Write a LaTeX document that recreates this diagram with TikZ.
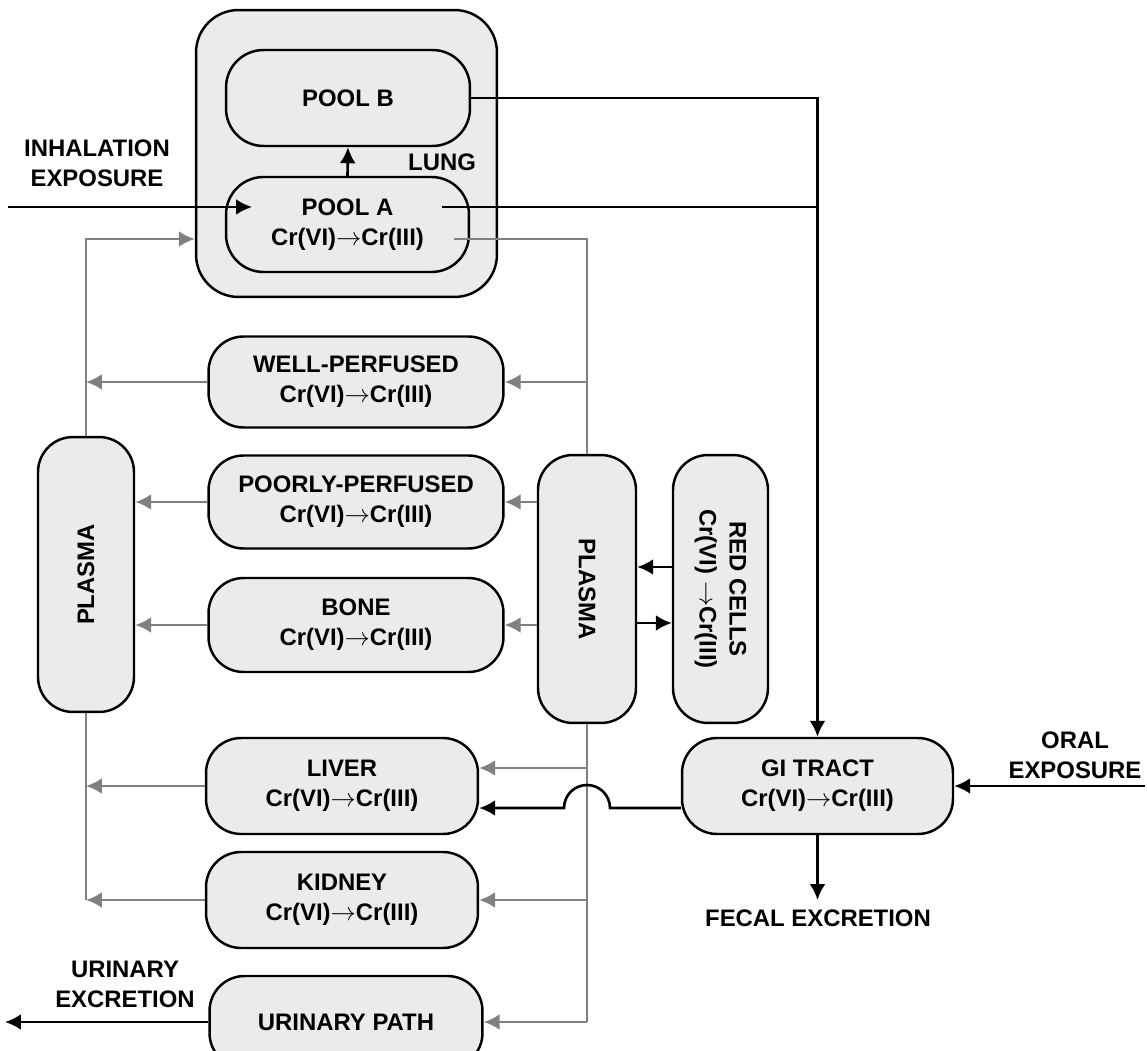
\documentclass[tikz,border=0pt]{standalone}
\usepackage{fontspec}
\setmainfont{Liberation Sans}
\usetikzlibrary{arrows.meta}
\newcommand{\crconv}{Cr(VI)$\rightarrow$Cr(III)}
\tikzset{
  comp/.style={draw,fill=black!8,line width=1.4pt,rounded corners=0.7cm,align=center,inner sep=0pt},
  lbl/.style={align=center,inner sep=1pt},
  blk/.style={draw,line width=1.5pt,>={Latex[length=0.32cm,width=0.32cm]}},
  gry/.style={draw,line width=1.5pt,black!50,>={Latex[length=0.32cm,width=0.32cm]}}
}
\begin{document}
\begin{tikzpicture}[x=0.02cm,y=-0.02cm,font=\fontsize{13.6}{17}\selectfont\bfseries]
\useasboundingbox (0,0) rectangle (1147,1051);
% lung
\node[comp,rounded corners=0.85cm,minimum width=6.02cm,minimum height=5.74cm] at (346.5,153.5)(lung){};
\node[comp,rounded corners=0.75cm,minimum width=4.88cm,minimum height=1.92cm] at (348,98)(poolB){POOL B};
\node[comp,rounded corners=0.75cm,minimum width=4.86cm,minimum height=1.9cm] at (347.5,224.5)(poolA){POOL A\\\crconv};
\node[lbl] at (442,162)(lunglbl){LUNG};
\node[lbl] at (97,163)(inhal){INHALATION\\EXPOSURE};
\coordinate (inh) at (8,207);
\coordinate (inhtip) at (252,207);
\coordinate (aout) at (442,207);
\coordinate (agray) at (454,239);
% tissues
\foreach \y/\h/\nm/\txt in {382/1.82/wp/WELL-PERFUSED, 502/1.86/pp/POORLY-PERFUSED, 625/1.88/bone/BONE}{
    \node[comp,minimum width=5.9cm,minimum height=\h cm] at (356,\y)(\nm){\txt\\\crconv};
}
\node[comp,minimum width=5.44cm,minimum height=1.92cm] at (342,786)(liver){LIVER\\\crconv};
\node[comp,minimum width=5.44cm,minimum height=1.92cm] at (342,900)(kidney){KIDNEY\\\crconv};
\node[comp,minimum width=5.46cm,minimum height=1.84cm] at (346,1022)(urin){URINARY PATH};
\node[comp,minimum width=1.92cm,minimum height=5.5cm] at (86,574.5)(lplasma){};
\node[rotate=90] at (lplasma){PLASMA};
\node[comp,minimum width=1.96cm,minimum height=5.36cm] at (587,589)(rplasma){};
\node[rotate=-90] at (rplasma){PLASMA};
\node[comp,minimum width=1.9cm,minimum height=5.36cm] at (720.5,589)(red){};
\node[rotate=-90,align=center] at (red){RED CELLS\\Cr(VI) $\rightarrow$Cr(III)};
\node[comp,minimum width=5.42cm,minimum height=1.92cm] at (817.5,786)(gi){GI TRACT\\\crconv};
\node[lbl] at (1075,755)(oral){ORAL\\EXPOSURE};
\node[lbl] at (818,918)(fecal){FECAL EXCRETION};
\node[lbl] at (125,984)(urinex){URINARY\\EXCRETION};
\coordinate (oralin) at (1145,786);
\coordinate (fectip) at (817.5,900);
\coordinate (uout) at (5,1022);
% lung connectors
\path[blk,->] (inh) -- (inhtip);
\path[blk,->] (poolA.north) -- (poolB.south);
\path[blk,->] (poolB.east) -- (poolB.east -| gi.north) -- (gi.north);
\path[blk] (aout) -- (aout -| gi.north);
\path[gry] (agray) -| (rplasma.north);
\path[gry,->] (lplasma.north) |- (lung.west |- agray);
% plasma to tissues
\path[gry,->] (rplasma.north |- wp.east) -- (wp.east);
\path[gry,->] (rplasma.west |- pp.east) -- (pp.east);
\path[gry,->] (rplasma.west |- bone.east) -- (bone.east);
\path[gry,->] (wp.west) -- (wp.west -| lplasma.north);
\path[gry,->] (pp.west) -- (pp.west -| lplasma.east);
\path[gry,->] (bone.west) -- (bone.west -| lplasma.east);
\path[gry] (rplasma.south) -- (rplasma.south |- urin.east);
\path[gry,->] (rplasma.south |- 0,768) -- (liver.east |- 0,768);
\path[gry,->] (rplasma.south |- kidney.east) -- (kidney.east);
\path[gry,->] (rplasma.south |- urin.east) -- (urin.east);
\path[gry] (lplasma.south) -- (lplasma.south |- kidney.west);
\path[gry,->] (liver.west) -- (liver.west -| lplasma.south);
\path[gry,->] (kidney.west) -- (kidney.west -| lplasma.south);
% red cells
\path[blk,->] (red.west |- 0,567) -- (rplasma.east |- 0,567);
\path[blk,->] (rplasma.east |- 0,623) -- (red.west |- 0,623);
% gi tract
\path[blk,->] (oralin) -- (gi.east);
\path[blk,->] (gi.south) -- (fectip);
\path[blk,->] (gi.west |- 0,808) -- (610,808) arc[start angle=0,end angle=180,radius=0.46cm] -- (liver.east |- 0,808);
\path[blk,->] (urin.west) -- (uout);
\end{tikzpicture}
\end{document}
